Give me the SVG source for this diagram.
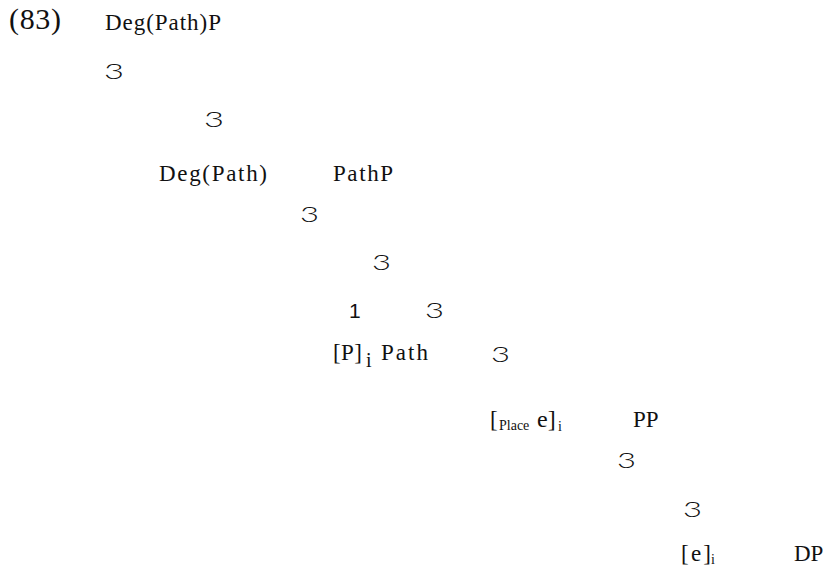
<svg xmlns="http://www.w3.org/2000/svg" width="825" height="578" viewBox="0 0 825 578">
  <style>
    .lbl { font-family: "Liberation Serif", "Times New Roman", serif; font-size: 23px; fill: #111; }
    .num { font-family: "Liberation Serif", "Times New Roman", serif; font-size: 30px; fill: #111; }
    .sub { font-family: "Liberation Serif", "Times New Roman", serif; font-size: 14px; fill: #111; }
    .br  { font-family: Lato, "Liberation Sans", Arial, sans-serif; font-weight: 300; font-size: 22px; fill: #111; }
    .one { font-family: "Liberation Sans", Arial, sans-serif; font-size: 21px; fill: #111; }
  </style>
  <rect width="825" height="578" fill="#ffffff"/>

  <!-- example number -->
  <g id="example-number"><text class="num" x="9" y="29" textLength="52" lengthAdjust="spacing">(83)</text></g>

  <!-- tree nodes (branch marks are the "3" / "1" glyphs) -->
  <g id="n-degpathp"><text class="lbl" x="105" y="30" textLength="116" lengthAdjust="spacing">Deg(Path)P</text></g>
  <g id="b1"><text class="br" x="104" y="79" textLength="20" lengthAdjust="spacingAndGlyphs">3</text></g>
  <g id="b2"><text class="br" x="204" y="127" textLength="20" lengthAdjust="spacingAndGlyphs">3</text></g>

  <g id="n-degpath"><text class="lbl" x="159" y="181" textLength="108" lengthAdjust="spacing">Deg(Path)</text></g>
  <g id="n-pathp"><text class="lbl" x="333" y="181" textLength="60" lengthAdjust="spacing">PathP</text></g>

  <g id="b3"><text class="br" x="300" y="222" textLength="19" lengthAdjust="spacingAndGlyphs">3</text></g>
  <g id="b4"><text class="br" x="372" y="270" textLength="19" lengthAdjust="spacingAndGlyphs">3</text></g>
  <g id="b5"><text class="one" x="349" y="318">1</text><text class="br" x="425" y="318" textLength="19" lengthAdjust="spacingAndGlyphs">3</text></g>

  <g id="n-p-path">
    <text class="lbl" x="333" y="360" textLength="29" lengthAdjust="spacing">[P]</text>
    <text class="lbl" x="366" y="367" style="font-size:20px">i</text>
    <text class="lbl" x="381" y="360" textLength="47" lengthAdjust="spacing">Path</text>
  </g>
  <g id="b6"><text class="br" x="491" y="362" textLength="19" lengthAdjust="spacingAndGlyphs">3</text></g>

  <g id="n-place-e">
    <text class="lbl" x="490" y="427">[</text>
    <text class="sub" x="499" y="430">Place</text>
    <text class="lbl" x="537" y="427" style="font-size:24px">e]</text>
    <text class="sub" x="558" y="431">i</text>
  </g>
  <g id="n-pp"><text class="lbl" x="633" y="427">PP</text></g>

  <g id="b7"><text class="br" x="617" y="468" textLength="19" lengthAdjust="spacingAndGlyphs">3</text></g>
  <g id="b8"><text class="br" x="683" y="517" textLength="19" lengthAdjust="spacingAndGlyphs">3</text></g>

  <g id="n-e">
    <text class="lbl" x="681" y="561" textLength="30" lengthAdjust="spacing">[e]</text>
    <text class="sub" x="711" y="564">i</text>
  </g>
  <g id="n-dp"><text class="lbl" x="794" y="561">DP</text></g>
</svg>
